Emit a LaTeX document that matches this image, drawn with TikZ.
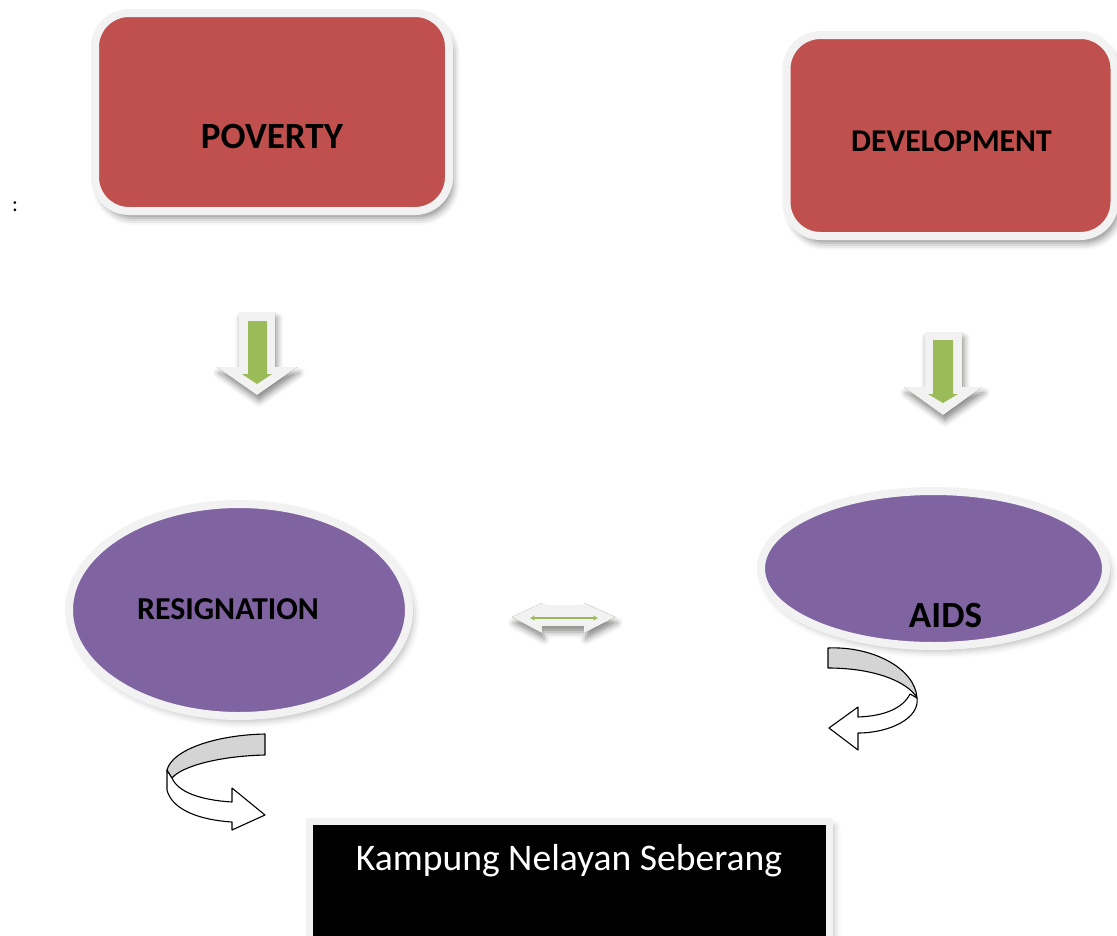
\documentclass[tikz,border=0pt]{standalone}
\usepackage{fontspec}
\setmainfont{Carlito}
\usetikzlibrary{shapes.geometric,shadows.blur,arrows.meta}

\definecolor{boxred}{HTML}{C0504D}
\definecolor{ovalpurple}{HTML}{8064A2}
\definecolor{leafgreen}{HTML}{9BBB59}
\definecolor{rim}{HTML}{F2F2F2}
\definecolor{ribbon}{HTML}{D4D4D4}

\tikzset{
  % tinted soft shadows, drawn beneath the shapes that cover them
  redshade/.style={draw=none,
    blur shadow={shadow xshift=4pt, shadow yshift=-7pt, shadow blur radius=7pt,
      shadow opacity=45, fill=boxred!45!black}},
  greyshade/.style={draw=none,
    blur shadow={shadow xshift=4pt, shadow yshift=-5pt, shadow blur radius=7pt,
      shadow opacity=30, fill=black}},
  greenshade/.style={draw=none,
    blur shadow={shadow xshift=2pt, shadow yshift=-6pt, shadow blur radius=6pt,
      shadow opacity=45, fill=leafgreen!55!black}},
  causebox/.style={rectangle, rounded corners=34pt, fill=boxred, draw=rim,
    line width=8pt, inner sep=0pt},
  effectoval/.style={ellipse, fill=ovalpurple, draw=rim, line width=8pt,
    inner sep=0pt},
  placebox/.style={rectangle, fill=black, draw=rim, line width=7pt, inner sep=0pt},
  boldlabel/.style={font=\bfseries, anchor=base, inner sep=0pt},
  blockarrow/.style={fill=rim, draw=none},
  greenfill/.style={fill=leafgreen, draw=none},
  ribbonback/.style={fill=ribbon, draw=black, line width=1.1pt, line join=round},
  ribbonfront/.style={fill=white, draw=black, line width=1.1pt, line join=round},
}

\begin{document}
\begin{tikzpicture}[x=1pt,y=-1pt]
\useasboundingbox (0,0) rectangle (1117,935);
\clip (0,0) rectangle (1117,935);

% cause boxes
\path[redshade, rounded corners=34pt] (95,13) rectangle (449,211);
\node[causebox, minimum width=354pt, minimum height=198pt] (poverty) at (272,112) {};
\node[boldlabel, font=\bfseries\fontsize{37}{44}\selectfont] (povertytext) at (272,148) {POVERTY};

\path[redshade, rounded corners=34pt] (786.5,35) rectangle (1114.5,236);
\node[causebox, minimum width=328pt, minimum height=201pt] (development) at (950.5,135.5) {};
\node[boldlabel, font=\bfseries\fontsize{31.7}{38}\selectfont] (developmenttext) at (951.5,151) {DEVELOPMENT};

% stray colon at the left margin
\node[font=\fontsize{22}{26}\selectfont, inner sep=0pt, anchor=base] (colon) at (15,211) {:};

% downward block arrows
\path[greenshade] (239,312) -- (275,312) -- (275,367) -- (297,367) -- (257,395)
  -- (217,367) -- (239,367) -- cycle;
\path[blockarrow] (239,312) -- (275,312) -- (275,367) -- (297,367) -- (257,395)
  -- (217,367) -- (239,367) -- cycle;
\path[greenfill] (248,321) -- (267,321) -- (267,374) -- (272,374) -- (257,384)
  -- (242,374) -- (248,374) -- cycle;

\path[greenshade] (925,332) -- (962,332) -- (962,387) -- (982,387) -- (943,415)
  -- (904,387) -- (925,387) -- cycle;
\path[blockarrow] (925,332) -- (962,332) -- (962,387) -- (982,387) -- (943,415)
  -- (904,387) -- (925,387) -- cycle;
\path[greenfill] (933,340) -- (953,340) -- (953,394) -- (958,394) -- (943,403)
  -- (928,394) -- (933,394) -- cycle;

% effect ovals
\path[greyshade] (239,610) ellipse (170 and 106);
\node[effectoval, minimum width=340pt, minimum height=212pt] (resignation) at (239,610) {};
\node[boldlabel, font=\bfseries\fontsize{31.9}{38}\selectfont] (resignationtext) at (228,619) {RESIGNATION};

\path[greyshade] (933.5,568.5) ellipse (172.5 and 77.5);
\node[effectoval, minimum width=345pt, minimum height=155pt] (aids) at (933.5,568.5) {};
\node[boldlabel, font=\bfseries\fontsize{37}{44}\selectfont] (aidstext) at (945.5,627) {AIDS};

% two-way block arrow between the ovals
\path[greenshade] (512,617) -- (542,603) -- (542,605) -- (584,605) -- (584,603)
  -- (615,617) -- (584,633) -- (584,626) -- (542,626) -- (542,633) -- cycle;
\path[blockarrow] (512,617) -- (542,603) -- (542,605) -- (584,605) -- (584,603)
  -- (615,617) -- (584,633) -- (584,626) -- (542,626) -- (542,633) -- cycle;
\coordinate (linkleft) at (530,618);
\coordinate (linkright) at (598,618);
\draw[leafgreen, line width=1.6pt, {Stealth[length=5pt,width=5pt]}-{Stealth[length=5pt,width=5pt]}]
  (linkleft) -- (linkright);

% curved ribbon arrow under RESIGNATION
\path[ribbonfront] (167,770) -- (167,790) .. controls (172,810) and (200,820) .. (232,822)
  -- (232,830) -- (265,815) -- (232,788) -- (232,802)
  .. controls (200,800) and (178,792) .. (172,778) -- cycle;
\path[ribbonback] (265,734) .. controls (215,735) and (172,750) .. (167,770)
  -- (172,778) .. controls (182,766) and (220,756) .. (265,755) -- cycle;

% curved ribbon arrow under AIDS
\path[ribbonfront] (917,698) .. controls (920,718) and (890,733) .. (858,733)
  -- (858,750) -- (829,728) -- (858,707) -- (858,717)
  .. controls (885,716) and (903,708) .. (910,694) -- cycle;
\path[ribbonback] (828,648) .. controls (872,646) and (915,668) .. (917,698)
  .. controls (908,682) and (875,668) .. (828,668) -- cycle;

% place name
\path[greyshade] (309,821.5) rectangle (829.5,1021.5);
\node[placebox, minimum width=520pt, minimum height=200pt] (place) at (569,921.5) {};
\node[font=\fontsize{37.6}{45}\selectfont, text=white, anchor=base, inner sep=0pt] (placetext)
  at (569,870) {Kampung Nelayan Seberang};
\end{tikzpicture}
\end{document}
